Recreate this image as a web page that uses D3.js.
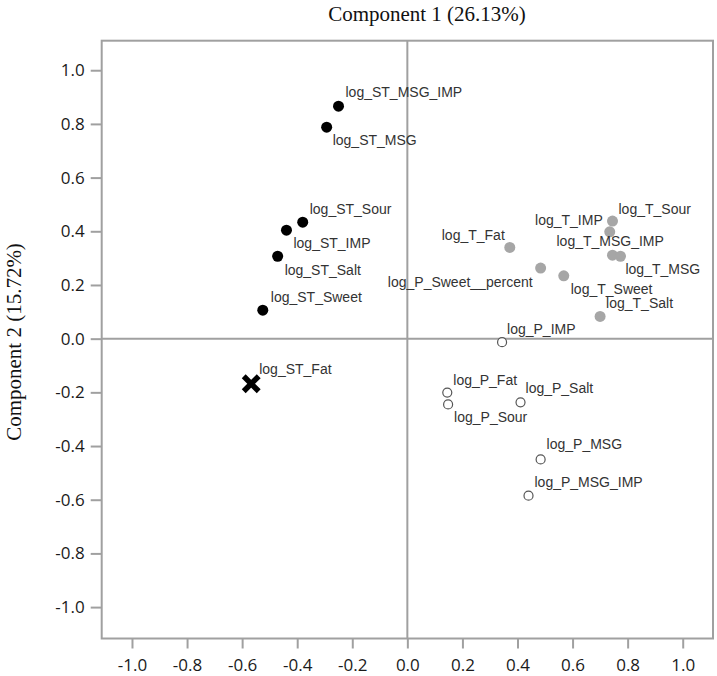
<!DOCTYPE html>
<html>
<head>
<meta charset="utf-8">
<script src="https://cdn.jsdelivr.net/npm/d3@7"></script>
<style>
  html, body { margin: 0; padding: 0; background: #fff; }
  svg { display: block; }
</style>
</head>
<body>
<svg id="chart" width="717" height="676"></svg>
<script>
// ---- data ----
const names = [
  "log_ST_MSG_IMP", "log_ST_MSG", "log_ST_Sour", "log_ST_IMP", "log_ST_Salt", "log_ST_Sweet", "log_ST_Fat",
  "log_T_Sour", "log_T_IMP", "log_T_Fat", "log_T_MSG_IMP", "log_T_MSG", "log_P_Sweet__percent", "log_T_Sweet", "log_T_Salt",
  "log_P_IMP", "log_P_Fat", "log_P_Sour", "log_P_Salt", "log_P_MSG", "log_P_MSG_IMP"
];
const component1 = [
  -0.250, -0.293, -0.380, -0.439, -0.471, -0.525, -0.567,
  0.745, 0.735, 0.372, 0.745, 0.774, 0.484, 0.568, 0.700,
  0.344, 0.145, 0.148, 0.411, 0.484, 0.440
];
const component2 = [
  0.866, 0.788, 0.434, 0.404, 0.307, 0.106, -0.168,
  0.438, 0.398, 0.340, 0.311, 0.307, 0.263, 0.234, 0.083,
  -0.013, -0.201, -0.245, -0.237, -0.450, -0.585
];
const groups = [
  "ST", "ST", "ST", "ST", "ST", "ST", "STX",
  "T", "T", "T", "T", "T", "T", "T", "T",
  "P", "P", "P", "P", "P", "P"
];
const tickValues = [-1.0, -0.8, -0.6, -0.4, -0.2, 0.0, 0.2, 0.4, 0.6, 0.8, 1.0];
const xTitle = "Component 1 (26.13%)";
const yTitle = "Component 2 (15.72%)";

// ---- label placement (layout only) ----
const labelPlacement = {
  "log_ST_MSG_IMP": [7, -9, "start"],
  "log_ST_MSG": [6, 18, "start"],
  "log_ST_Sour": [7, -8, "start"],
  "log_ST_IMP": [7, 18, "start"],
  "log_ST_Salt": [7, 19, "start"],
  "log_ST_Sweet": [8, -8, "start"],
  "log_ST_Fat": [8, -10, "start"],
  "log_T_Sour": [6, -7, "start"],
  "log_T_IMP": [-7, -7, "end"],
  "log_T_Fat": [-5, -7, "end"],
  "log_T_MSG_IMP": [-56, -9, "start"],
  "log_T_MSG": [5, 18, "start"],
  "log_P_Sweet__percent": [-8, 19, "end"],
  "log_T_Sweet": [7, 18, "start"],
  "log_T_Salt": [6, -8, "start"],
  "log_P_IMP": [5, -8, "start"],
  "log_P_Fat": [6, -8, "start"],
  "log_P_Sour": [6, 18, "start"],
  "log_P_Salt": [5, -9, "start"],
  "log_P_MSG": [6, -10, "start"],
  "log_P_MSG_IMP": [6, -9, "start"]
};

const points = names.map((n, i) => ({ name: n, x: component1[i], y: component2[i], g: groups[i] }));

// ---- layout ----
const svg = d3.select("#chart");
const plotLeft = 101.7, plotRight = 713, plotTop = 40.7, plotBottom = 638.5;
const x = d3.scaleLinear().domain([-1.11, 1.11]).range([plotLeft, plotRight]);
const y = d3.scaleLinear().domain([-1.117, 1.11]).range([plotBottom, plotTop]);
const axisColor = "#a0a0a0";
const fmt = v => d3.format(".1f")(v).replace("\u2212", "-");

// frame
svg.append("rect")
  .attr("x", plotLeft).attr("y", plotTop)
  .attr("width", plotRight - plotLeft).attr("height", plotBottom - plotTop)
  .attr("fill", "none").attr("stroke", axisColor).attr("stroke-width", 2);

// zero lines
svg.append("line")
  .attr("x1", x(0)).attr("x2", x(0)).attr("y1", plotTop).attr("y2", plotBottom)
  .attr("stroke", axisColor).attr("stroke-width", 2);
svg.append("line")
  .attr("x1", plotLeft).attr("x2", plotRight).attr("y1", y(0)).attr("y2", y(0))
  .attr("stroke", axisColor).attr("stroke-width", 2);

// axes
const yAxis = svg.append("g")
  .attr("transform", `translate(${plotLeft},0)`)
  .call(d3.axisLeft(y).tickValues(tickValues).tickFormat(fmt).tickSize(11).tickSizeOuter(0).tickPadding(6));
const xAxis = svg.append("g")
  .attr("transform", `translate(0,${plotBottom})`)
  .call(d3.axisBottom(x).tickValues(tickValues).tickFormat(fmt).tickSize(10).tickSizeOuter(0).tickPadding(10));
[yAxis, xAxis].forEach(a => {
  a.select(".domain").remove();
  a.selectAll(".tick line").attr("stroke", axisColor).attr("stroke-width", 2);
  a.selectAll(".tick text")
    .attr("fill", "#1a1a1a")
    .style("font-family", "'Open Sans', 'Liberation Sans', sans-serif")
    .style("font-size", "17px");
});

// titles
svg.append("text")
  .attr("x", 427).attr("y", 21)
  .attr("text-anchor", "middle")
  .style("font-family", "'Liberation Serif', 'Times New Roman', serif")
  .style("font-size", "21px")
  .attr("fill", "#111")
  .text(xTitle);
svg.append("text")
  .attr("transform", "translate(21,342) rotate(-90)")
  .attr("text-anchor", "middle")
  .style("font-family", "'Liberation Serif', 'Times New Roman', serif")
  .style("font-size", "21px")
  .attr("fill", "#111")
  .text(yTitle);

// points
const pg = svg.append("g");
points.forEach(d => {
  const cx = x(d.x), cy = y(d.y);
  if (d.g === "ST") {
    pg.append("circle").attr("cx", cx).attr("cy", cy).attr("r", 5.5).attr("fill", "#000");
  } else if (d.g === "T") {
    pg.append("circle").attr("cx", cx).attr("cy", cy).attr("r", 5.5).attr("fill", "#a6a6a6");
  } else if (d.g === "P") {
    pg.append("circle").attr("cx", cx).attr("cy", cy).attr("r", 4.5)
      .attr("fill", "#fff").attr("stroke", "#555").attr("stroke-width", 1.2);
  } else {
    const s = 7.5;
    pg.append("path")
      .attr("d", `M${cx - s},${cy - s}L${cx + s},${cy + s}M${cx - s},${cy + s}L${cx + s},${cy - s}`)
      .attr("stroke", "#000").attr("stroke-width", 5.5).attr("fill", "none");
  }
});

// labels
const lg = svg.append("g")
  .style("font-family", "'Liberation Sans', Arial, sans-serif")
  .style("font-size", "14px")
  .attr("fill", "#333");
points.forEach(d => {
  const p = labelPlacement[d.name];
  lg.append("text")
    .attr("x", x(d.x) + p[0])
    .attr("y", y(d.y) + p[1])
    .attr("text-anchor", p[2])
    .text(d.name);
});
</script>
</body>
</html>
